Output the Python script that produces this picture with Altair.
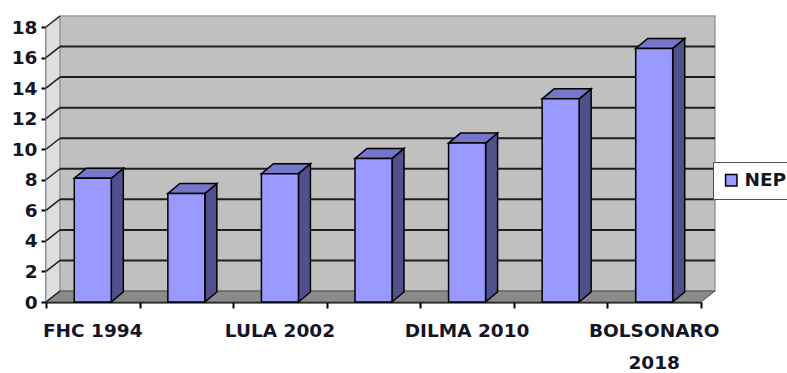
import altair as alt
import pandas as pd

# Effective number of parties (NEP) per election
categories = ["FHC 1994", "FHC 1998", "LULA 2002", "LULA 2006",
              "DILMA 2010", "DILMA 2014", "BOLSONARO 2018"]
nep = [8.1, 7.1, 8.4, 9.4, 10.4, 13.3, 16.6]
y_ticks = [0, 2, 4, 6, 8, 10, 12, 14, 16, 18]
series_name = "NEP"

# ---- geometry of the pseudo-3D frame (pixel sizes converted to data units)
W, H = 655, 275
Y_MAX = 18
N = len(categories)
PX_X = W / N
PX_Y = H / Y_MAX


def ux(px):
    return px / PX_X


def uy(px):
    return px / PX_Y


BAR_HALF = ux(18.5)
BAR_DX, BAR_DY = ux(12), uy(10)
WALL_DX, WALL_DY = ux(14), uy(11)
X_LO, X_HI = -0.5, N - 0.5

FONT = "DejaVu Sans"
TEXT = "#15152a"
FRONT, TOP, SIDE = "#9999ff", "#7575c9", "#50508c"

xs = alt.Scale(domain=[X_LO, X_HI], nice=False, zero=False)
ys = alt.Scale(domain=[0, Y_MAX], nice=False, zero=False)

# the same axis definitions are given to every layer so they merge into one
x_axis = alt.Axis(
    values=[X_LO + k for k in range(N + 1)], labels=False, grid=False,
    title=None, domainColor="black", domainWidth=2, tickColor="black",
    tickWidth=2, tickSize=6)
y_axis = alt.Axis(
    values=y_ticks, grid=False, title=None, labelFont=FONT,
    labelFontSize=18.5, labelFontWeight="bold", labelColor=TEXT,
    labelPadding=4, domainColor="black", domainWidth=2, tickColor="black",
    tickWidth=2, tickSize=5)


def X(field):
    return alt.X(field, scale=xs, axis=x_axis, title=None)


def Y(field, **kw):
    return alt.Y(field, scale=ys, axis=y_axis, title=None, **kw)


# bar front faces
front = pd.DataFrame({
    "category": categories,
    "value": nep,
    "x0": [i - BAR_HALF for i in range(N)],
    "x1": [i + BAR_HALF for i in range(N)],
    "base": 0.0,
    "series": series_name,
})

# bar right-side and top faces as polygons
side_rows, top_rows = [], []
for i, v in enumerate(nep):
    l, r = i - BAR_HALF, i + BAR_HALF
    side_rows += [
        {"bar": i, "x": r, "lo": 0.0, "hi": v},
        {"bar": i, "x": r + BAR_DX, "lo": BAR_DY, "hi": v + BAR_DY},
    ]
    top_rows += [
        {"bar": i, "x": l, "lo": v, "hi": v},
        {"bar": i, "x": l + BAR_DX, "lo": v, "hi": v + BAR_DY},
        {"bar": i, "x": r, "lo": v, "hi": v + BAR_DY},
        {"bar": i, "x": r + BAR_DX, "lo": v + BAR_DY, "hi": v + BAR_DY},
    ]
side = pd.DataFrame(side_rows)
top = pd.DataFrame(top_rows)

# frame: left wall, back wall, floor
left_wall = pd.DataFrame([
    {"x": X_LO, "lo": 0.0, "hi": Y_MAX},
    {"x": X_LO + WALL_DX, "lo": WALL_DY, "hi": Y_MAX + WALL_DY},
])
back_wall = pd.DataFrame([{
    "x0": X_LO + WALL_DX, "x1": X_HI + WALL_DX,
    "y0": WALL_DY, "y1": Y_MAX + WALL_DY,
}])
floor = pd.DataFrame([
    {"x": X_LO, "lo": 0.0, "hi": 0.0},
    {"x": X_LO + WALL_DX, "lo": 0.0, "hi": WALL_DY},
    {"x": X_HI, "lo": 0.0, "hi": WALL_DY},
    {"x": X_HI + WALL_DX, "lo": WALL_DY, "hi": WALL_DY},
])
wall_grid = pd.DataFrame({
    "x0": X_LO + WALL_DX, "x1": X_HI + WALL_DX,
    "y": [k + WALL_DY for k in y_ticks if 0 < k < Y_MAX],
})
diagonals = pd.DataFrame({
    "x0": X_LO, "x1": X_LO + WALL_DX,
    "y0": [float(k) for k in y_ticks],
    "y1": [k + WALL_DY for k in y_ticks],
})

# every other category label, long names wrapped
labels = pd.DataFrame({
    "x": [i for i in range(N) if i % 2 == 0],
    "label": [(c.replace(" ", "\n") if len(c) > 10 else c)
              for i, c in enumerate(categories) if i % 2 == 0],
})

left_wall_layer = alt.Chart(left_wall).mark_area(
    orient="vertical", fill="#dedede", stroke="#9a9a9a", strokeWidth=1
).encode(x=X("x:Q"), y=Y("lo:Q", stack=False), y2="hi:Q")

back_wall_layer = alt.Chart(back_wall).mark_rect(
    fill="#c0c0c0", stroke="#9a9a9a", strokeWidth=1.5
).encode(x=X("x0:Q"), x2="x1:Q", y=Y("y0:Q"), y2="y1:Q")

floor_layer = alt.Chart(floor).mark_area(
    orient="vertical", fill="#8a8a8a", stroke="#505050", strokeWidth=1
).encode(x=X("x:Q"), y=Y("lo:Q", stack=False), y2="hi:Q")

grid_layer = alt.Chart(wall_grid).mark_rule(
    color="#1e1e1e", strokeWidth=2
).encode(x=X("x0:Q"), x2="x1:Q", y=Y("y:Q"))

diag_layer = alt.Chart(diagonals).mark_rule(
    color="#1e1e1e", strokeWidth=1.5
).encode(x=X("x0:Q"), x2="x1:Q", y=Y("y0:Q"), y2="y1:Q")

side_layer = alt.Chart(side).mark_area(
    orient="vertical", fill=SIDE, stroke="black", strokeWidth=1.5,
    strokeJoin="miter"
).encode(x=X("x:Q"), y=Y("lo:Q", stack=False), y2="hi:Q", detail="bar:N")

top_layer = alt.Chart(top).mark_area(
    orient="vertical", fill=TOP, stroke="black", strokeWidth=1.5,
    strokeJoin="miter"
).encode(x=X("x:Q"), y=Y("lo:Q", stack=False), y2="hi:Q", detail="bar:N")

front_layer = alt.Chart(front).mark_rect(
    stroke="black", strokeWidth=1.5
).encode(
    x=X("x0:Q"), x2="x1:Q",
    y=Y("value:Q"), y2="base:Q",
    color=alt.Color("series:N",
                    scale=alt.Scale(domain=[series_name], range=[FRONT]),
                    legend=alt.Legend(
                        title=None, orient="none", legendX=667, legendY=135,
                        fillColor="white", strokeColor="#505050", padding=9,
                        symbolType="square", symbolSize=130,
                        symbolStrokeColor="black", symbolStrokeWidth=1.5,
                        labelFont=FONT, labelFontSize=18.5,
                        labelFontWeight="bold", labelColor=TEXT)),
)

label_layer = alt.Chart(labels).mark_text(
    font=FONT, fontSize=18.5, fontWeight="bold", color=TEXT,
    baseline="top", align="center", lineBreak="\n", lineHeight=32
).encode(x=X("x:Q"), y=alt.value(295), text="label:N")

chart = alt.layer(
    left_wall_layer, back_wall_layer, floor_layer, grid_layer, diag_layer,
    side_layer, top_layer, front_layer, label_layer,
).properties(
    width=W, height=H,
    padding={"left": 46, "top": 27, "right": 86, "bottom": 71},
    autosize="none",
    background="white",
).configure_view(stroke=None)

chart.save("out.html", embed_options={"renderer": "svg", "actions": False})
